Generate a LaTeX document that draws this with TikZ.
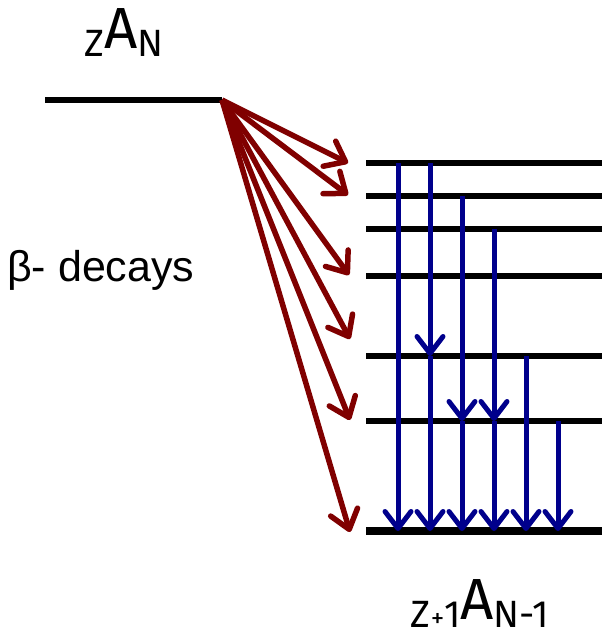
\documentclass[tikz,border=0pt]{standalone}
\usepackage{fontspec}
\setmainfont{Liberation Sans}
\newfontfamily\lblfont{Fira Sans}
\usetikzlibrary{arrows.meta}
\definecolor{betared}{RGB}{128,0,0}
\definecolor{gamblue}{RGB}{0,0,140}
\newcommand{\smallsz}{\fontsize{38}{38}\selectfont}
\newcommand{\bigsz}{\fontsize{58}{58}\selectfont}
\begin{document}
\begin{tikzpicture}[x=1pt,y=-1pt,
  lvl/.style={line width=5.5pt},
  beta/.style={draw=betared,line width=5.5pt,-{Straight Barb[length=18pt,width=28pt,line join=round,line cap=round]}},
  gam/.style={draw=gamblue,line width=5pt,-{Straight Barb[length=17pt,width=26pt,line join=round,line cap=round]}}]
\useasboundingbox (0,0) rectangle (602,635);
% parent level
\coordinate (P0) at (45,100);
\coordinate (P1) at (222,100);
\draw[lvl,line width=6.5pt] (P0) -- (P1);
% daughter levels
\foreach \n/\y in {1/163,2/196,3/229,4/276,5/356,6/421}{
  \coordinate (L\n l) at (366,\y);
  \coordinate (L\n r) at (602,\y);
  \draw[lvl] (L\n l) -- (L\n r);
}
\coordinate (L7l) at (366,531);
\coordinate (L7r) at (602,531);
\draw[lvl,line width=8pt] (L7l) -- (L7r);
% beta arrows
\foreach \i/\x/\y in {1/348/163,2/348/195,3/349/275,4/350/339,5/350/420,6/350/532}{
  \coordinate (B\i) at (\x,\y);
  \draw[beta] (P1) -- (B\i);
}
% gamma transitions
\foreach \x in {398,430,462,494,526,558}{
  \coordinate (g\x) at (\x,0);
}
\draw[gam] (g398 |- L1l) -- (g398 |- L7l);
\draw[gam] (g430 |- L1l) -- (g430 |- L5l);
\draw[gam] (g430 |- L5l) -- (g430 |- L7l);
\draw[gam] (g462 |- L2l) -- (g462 |- L6l);
\draw[gam] (g462 |- L6l) -- (g462 |- L7l);
\draw[gam] (g494 |- L3l) -- (g494 |- L6l);
\draw[gam] (g494 |- L6l) -- (g494 |- L7l);
\draw[gam] (g526 |- L5l) -- (g526 |- L7l);
\draw[gam] (g558 |- L6l) -- (g558 |- L7l);
% labels
\node[anchor=base,inner sep=0pt] (top) at (124,56)
  {\lblfont\smallsz Z\bigsz\raisebox{8pt}{A}\smallsz N};
\node[anchor=base west,inner sep=0pt,font=\fontsize{43}{43}\selectfont] (dec) at (7,281) {β- decays};
\node[anchor=base,inner sep=0pt] (bot) at (480,627)
  {\lblfont\smallsz Z{\fontsize{27}{27}\selectfont+}1\bigsz\raisebox{8pt}{A}\smallsz N-1};
\end{tikzpicture}
\end{document}
